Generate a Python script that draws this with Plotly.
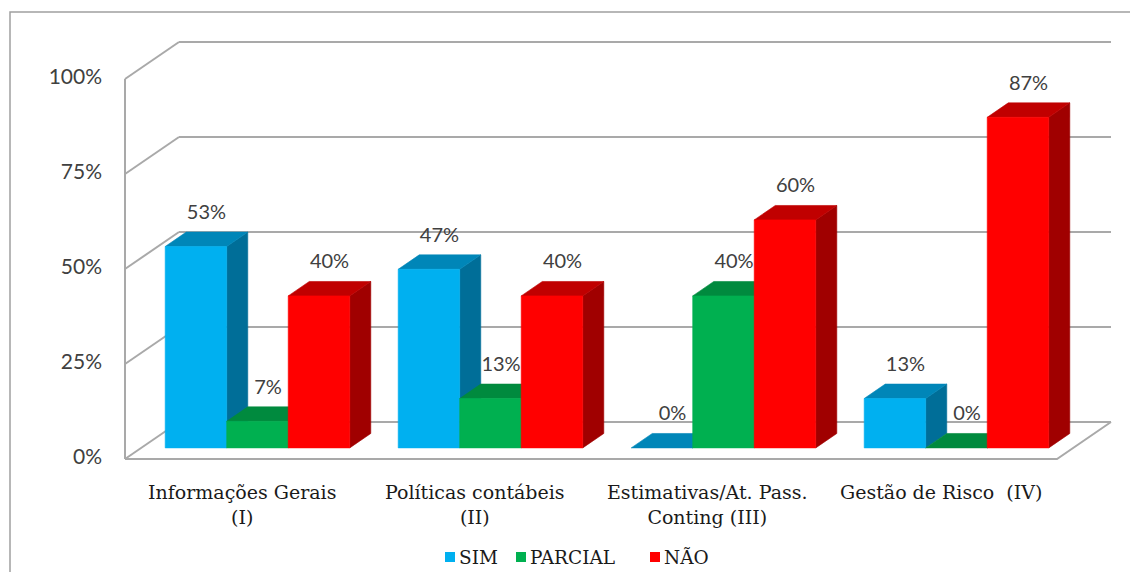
import plotly.graph_objects as go

# ---------------- data ----------------
categories = [["Informações Gerais", "(I)"],
              ["Políticas contábeis", "(II)"],
              ["Estimativas/At. Pass.", "Conting (III)"],
              ["Gestão de Risco  (IV)"]]
series_names = ["SIM", "PARCIAL", "NÃO"]
sim = [53, 47, 0, 13]
parcial = [7, 13, 40, 0]
nao = [40, 40, 60, 87]
tick_values = [0, 25, 50, 75, 100]
tick_labels = ["0%", "25%", "50%", "75%", "100%"]

# ---------------- style / layout constants ----------------
W, H = 1130, 572
X0_PX, X_PPU = 125, 233.0      # front-plane x origin (px) and px per category
Y0_PX, Y_PPU = 459, 3.8        # front-plane 0% (px) and px per percent
DX = 54 / X_PPU                # depth offset of back wall (category units)
DY = 37 / Y_PPU                # depth offset of back wall (percent units)
Z0, Z1 = 0.30, 0.69            # bar depth span (fraction of full depth)
BAR_START, BAR_W = 0.103, 0.264
front_cols = ["#00B0F0", "#00B050", "#FF0000"]
top_cols = ["#0086B8", "#008A3E", "#C00000"]
side_cols = ["#006E98", "#006B30", "#A00000"]
GRID = "#A9A9A9"
LABEL_FONT = "Lato"
SERIF = "DejaVu Serif"


def px_x(px):
    return (px - X0_PX) / X_PPU


def px_y(py):
    return (Y0_PX - py) / Y_PPU


fig = go.Figure()

# ---- walls: back gridlines, left wall diagonals, floor ----
for v in tick_values:
    fig.add_trace(go.Scatter(x=[DX, 4 + DX], y=[v + DY, v + DY], mode="lines",
                             line=dict(color=GRID, width=2), hoverinfo="skip", showlegend=False))
    fig.add_trace(go.Scatter(x=[0, DX], y=[v, v + DY], mode="lines",
                             line=dict(color=GRID, width=2), hoverinfo="skip", showlegend=False))
fig.add_trace(go.Scatter(x=[0, 0], y=[tick_values[0], tick_values[-1]], mode="lines",
                         line=dict(color=GRID, width=2), hoverinfo="skip", showlegend=False))
fig.add_trace(go.Scatter(x=[0, 4, 4 + DX], y=[0, 0, DY], mode="lines",
                         line=dict(color=GRID, width=2), hoverinfo="skip", showlegend=False))

# ---- bars ----
values = [sim, parcial, nao]


def poly(fig, xs, ys, color):
    fig.add_trace(go.Scatter(x=xs + [xs[0]], y=ys + [ys[0]], mode="lines", fill="toself",
                             fillcolor=color, line=dict(color=color, width=0.6),
                             hoverinfo="skip", showlegend=False))


lab_x, lab_y, lab_t = [], [], []
for i in range(len(categories)):
    for j in range(len(series_names)):
        v = values[j][i]
        xl = i + BAR_START + j * BAR_W
        xr = xl + BAR_W
        poly(fig, [xr + Z0 * DX, xr + Z1 * DX, xr + Z1 * DX, xr + Z0 * DX],
             [Z0 * DY, Z1 * DY, v + Z1 * DY, v + Z0 * DY], side_cols[j])
        poly(fig, [xl + Z0 * DX, xr + Z0 * DX, xr + Z1 * DX, xl + Z1 * DX],
             [v + Z0 * DY, v + Z0 * DY, v + Z1 * DY, v + Z1 * DY], top_cols[j])
        if v > 0:
            poly(fig, [xl + Z0 * DX, xr + Z0 * DX, xr + Z0 * DX, xl + Z0 * DX],
                 [Z0 * DY, Z0 * DY, v + Z0 * DY, v + Z0 * DY], front_cols[j])
        lab_x.append((xl + xr) / 2 + (Z0 + Z1) / 2 * DX)
        lab_y.append(v + Z1 * DY + 8 / Y_PPU)
        lab_t.append(f"{v}%")

# data labels
fig.add_trace(go.Scatter(x=lab_x, y=lab_y, mode="text", text=lab_t, textposition="top center",
                         textfont=dict(family=LABEL_FONT, size=20, color="#404040"),
                         hoverinfo="skip", showlegend=False))

# y tick labels
fig.add_trace(go.Scatter(x=[px_x(102)] * len(tick_values), y=tick_values, mode="text",
                         text=tick_labels, textposition="middle left",
                         textfont=dict(family=LABEL_FONT, size=21, color="#404040"),
                         hoverinfo="skip", showlegend=False))

# category labels
for i, lines in enumerate(categories):
    fig.add_annotation(x=i + 0.5, y=px_y(479), xref="x", yref="y", text="<br>".join(lines),
                       showarrow=False, xanchor="center", yanchor="top", align="center",
                       font=dict(family=SERIF, size=19, color="#1A1A1A"))

# legend (custom)
leg_sq_px = [450, 521, 655]
leg_txt_px = [457, 528, 662]
for j, name in enumerate(series_names):
    fig.add_trace(go.Scatter(x=[px_x(leg_sq_px[j])], y=[px_y(557)], mode="markers",
                             marker=dict(symbol="square", size=10, color=front_cols[j]),
                             name=name, hoverinfo="skip", showlegend=False))
    fig.add_annotation(x=px_x(leg_txt_px[j]), y=px_y(557), xref="x", yref="y", text=name,
                       showarrow=False, xanchor="left", yanchor="middle",
                       font=dict(family=SERIF, size=18.5, color="#1A1A1A"))

# chart border (left and top)
fig.add_shape(type="path", xref="paper", yref="paper",
              path=f"M {10/W} 0 L {10/W} {1-12/H} L 1 {1-12/H}",
              line=dict(color="#A0A0A0", width=1.5))

fig.update_layout(
    width=W, height=H, autosize=False,
    margin=dict(l=0, r=0, t=0, b=0),
    paper_bgcolor="white", plot_bgcolor="white",
    xaxis=dict(range=[px_x(0), px_x(W)], visible=False, fixedrange=True),
    yaxis=dict(range=[px_y(H), px_y(0)], visible=False, fixedrange=True),
    showlegend=False,
)

fig.write_html("out.html")
